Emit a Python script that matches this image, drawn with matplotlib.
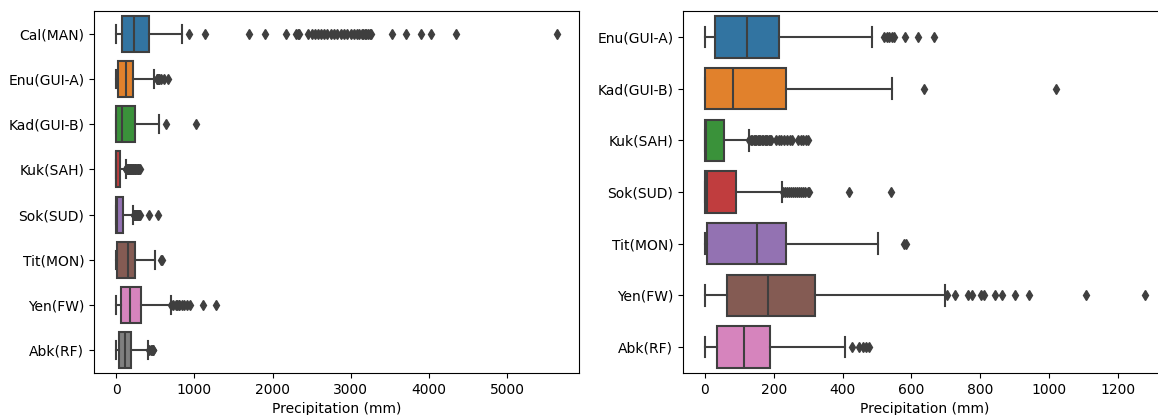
import matplotlib.pyplot as plt

# Box statistics (mm)
stations = ['Cal(MAN)', 'Enu(GUI-A)', 'Kad(GUI-B)', 'Kuk(SAH)',
            'Sok(SUD)', 'Tit(MON)', 'Yen(FW)', 'Abk(RF)']
whislo = [0, 0, 0, 0, 0, 0, 0, 0]
q1 = [73, 30, 1, 0, 0, 7, 64, 36]
med = [234, 122, 81, 4, 7, 151, 184, 112]
q3 = [418, 215, 236, 54, 91, 236, 321, 189]
whishi = [840, 484, 543, 129, 223, 504, 698, 408]

fliers = {
    'Cal(MAN)': [930, 1138, 1705, 1910, 2174, 2300, 2320, 2340, 2460, 2500,
                 2540, 2580, 2620, 2660, 2700, 2750, 2790, 2830, 2870, 2910,
                 2950, 3000, 3040, 3080, 3110, 3140, 3160, 3180, 3200, 3220,
                 3240, 3260, 3525, 3708, 3900, 4024, 4348, 5636],
    'Enu(GUI-A)': [521, 528, 536, 544, 550, 581, 618, 665],
    'Kad(GUI-B)': [636, 1021],
    'Kuk(SAH)': [129, 133, 137, 141, 145, 149, 153, 157, 161, 165, 169, 173,
                 177, 181, 185, 189, 192, 207, 214, 222, 230, 238, 246, 253,
                 271, 278, 286, 293, 300],
    'Sok(SUD)': [226, 232, 238, 244, 250, 256, 262, 268, 274, 280, 286, 292,
                 298, 303, 420, 541],
    'Tit(MON)': [578, 584],
    'Yen(FW)': [704, 727, 765, 777, 801, 810, 844, 864, 902, 941, 1108, 1279],
    'Abk(RF)': [426, 448, 458, 468, 477],
}

palette = ['#3274a1', '#e1812c', '#3a923a', '#c03d3e',
           '#9372b2', '#845b53', '#d684bd', '#7f7f7f']
gray = '#3f3f3f'


def make_stats(names):
    out = []
    for n in names:
        i = stations.index(n)
        out.append(dict(label=n, whislo=whislo[i], q1=q1[i], med=med[i],
                        q3=q3[i], whishi=whishi[i], fliers=fliers[n]))
    return out


def draw(ax, names):
    stats = make_stats(names)
    lw = 1.5
    bp = ax.bxp(stats, positions=range(len(names)), widths=0.8,
                capwidths=0.4, orientation='horizontal', patch_artist=True,
                boxprops=dict(edgecolor=gray, linewidth=lw),
                medianprops=dict(color=gray, linewidth=lw),
                whiskerprops=dict(color=gray, linewidth=lw),
                capprops=dict(color=gray, linewidth=lw),
                flierprops=dict(marker='d', markersize=5,
                                markerfacecolor=gray, markeredgecolor=gray))
    for patch, c in zip(bp['boxes'], palette):
        patch.set_facecolor(c)
    ax.set_ylim(len(names) - 0.5, -0.5)
    ax.set_yticks(range(len(names)))
    ax.set_yticklabels(names)
    ax.set_xlabel('Precipitation (mm)')


fig = plt.figure(figsize=(11.58, 4.15), dpi=100)
ax1 = fig.add_axes([94 / 1158, 42 / 415, 485 / 1158, 362 / 415])
ax2 = fig.add_axes([683 / 1158, 42 / 415, 484 / 1158, 362 / 415])

draw(ax1, stations)
draw(ax2, stations[1:])

fig.savefig('out.png', dpi=100)
